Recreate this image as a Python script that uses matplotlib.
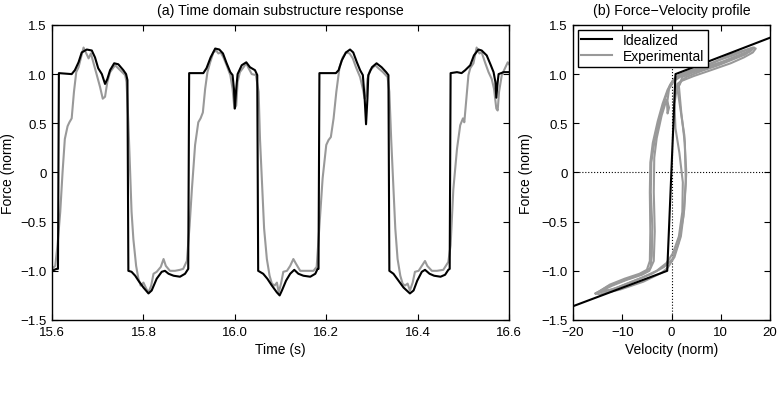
import matplotlib
matplotlib.use("Agg")
import matplotlib.pyplot as plt

# (a) time domain: idealized vs experimental force
ideal_time = [
    15.600, 15.610, 15.613, 15.615, 15.643, 15.650, 15.658, 15.665, 15.676, 15.687,
    15.694, 15.701, 15.709, 15.716, 15.721, 15.727, 15.736, 15.745, 15.756, 15.762,
    15.765, 15.767, 15.774, 15.782, 15.789, 15.800, 15.811, 15.818, 15.829, 15.840,
    15.847, 15.855, 15.866, 15.880, 15.891, 15.898, 15.900, 15.931, 15.938, 15.947,
    15.957, 15.966, 15.974, 15.982, 15.990, 15.995, 15.998, 16.000, 16.003, 16.006,
    16.015, 16.025, 16.033, 16.044, 16.049, 16.051, 16.062, 16.071, 16.081, 16.092,
    16.098, 16.103, 16.112, 16.121, 16.130, 16.139, 16.150, 16.165, 16.176, 16.181,
    16.183, 16.185, 16.221, 16.227, 16.234, 16.243, 16.252, 16.259, 16.267, 16.274,
    16.280, 16.284, 16.287, 16.290, 16.292, 16.300, 16.310, 16.321, 16.331, 16.336,
    16.338, 16.347, 16.358, 16.369, 16.383, 16.391, 16.399, 16.409, 16.416, 16.426,
    16.436, 16.450, 16.460, 16.467, 16.470, 16.472, 16.486, 16.496, 16.504, 16.515,
    16.523, 16.533, 16.540, 16.551, 16.560, 16.566, 16.570, 16.572, 16.575, 16.577,
    16.588, 16.600,
]
ideal_force = [
    -1.00, -0.98, -0.98, 1.01, 1.00, 1.04, 1.12, 1.22, 1.25, 1.24,
    1.17, 1.06, 1.00, 0.90, 0.95, 1.04, 1.11, 1.10, 1.04, 1.00,
    0.94, -1.00, -1.01, -1.05, -1.10, -1.17, -1.23, -1.20, -1.08, -1.01,
    -1.00, -1.03, -1.05, -1.06, -1.03, -0.98, 1.01, 1.01, 1.06, 1.17,
    1.26, 1.25, 1.21, 1.11, 1.02, 0.99, 0.85, 0.65, 0.85, 1.00,
    1.09, 1.12, 1.07, 1.04, 0.99, -1.00, -1.03, -1.08, -1.15, -1.22,
    -1.25, -1.20, -1.10, -1.03, -0.99, -1.03, -1.05, -1.06, -1.03, -0.98,
    -0.98, 1.01, 1.01, 1.04, 1.14, 1.22, 1.25, 1.22, 1.12, 1.04,
    0.99, 0.75, 0.49, 0.75, 0.99, 1.07, 1.11, 1.07, 1.02, 0.99,
    -1.00, -1.03, -1.10, -1.17, -1.23, -1.20, -1.10, -1.01, -0.99, -1.03,
    -1.05, -1.06, -1.04, -0.99, -0.98, 1.01, 1.02, 1.01, 1.04, 1.09,
    1.19, 1.25, 1.24, 1.19, 1.09, 1.02, 0.92, 0.76, 0.92, 1.00,
    1.02, 1.02,
]

exp_time = [
    15.600, 15.607, 15.612, 15.618, 15.623, 15.628, 15.634, 15.638, 15.643, 15.648,
    15.653, 15.658, 15.663, 15.669, 15.674, 15.680, 15.685, 15.691, 15.698, 15.705,
    15.711, 15.716, 15.721, 15.727, 15.738, 15.749, 15.760, 15.763, 15.767, 15.771,
    15.774, 15.778, 15.784, 15.789, 15.794, 15.800, 15.806, 15.811, 15.817, 15.822,
    15.829, 15.838, 15.844, 15.849, 15.858, 15.869, 15.880, 15.887, 15.895, 15.901,
    15.906, 15.913, 15.920, 15.925, 15.930, 15.935, 15.940, 15.946, 15.953, 15.959,
    15.964, 15.969, 15.975, 15.982, 15.990, 15.995, 15.999, 16.003, 16.006, 16.011,
    16.019, 16.025, 16.030, 16.037, 16.046, 16.052, 16.055, 16.060, 16.064, 16.070,
    16.076, 16.081, 16.087, 16.092, 16.096, 16.101, 16.106, 16.114, 16.121, 16.128,
    16.134, 16.143, 16.157, 16.172, 16.179, 16.185, 16.192, 16.200, 16.205, 16.210,
    16.216, 16.222, 16.229, 16.236, 16.243, 16.251, 16.258, 16.265, 16.274, 16.280,
    16.284, 16.287, 16.290, 16.296, 16.307, 16.314, 16.324, 16.334, 16.338, 16.342,
    16.347, 16.351, 16.356, 16.362, 16.367, 16.372, 16.378, 16.383, 16.389, 16.394,
    16.402, 16.409, 16.416, 16.421, 16.431, 16.442, 16.456, 16.467, 16.472, 16.478,
    16.486, 16.493, 16.499, 16.502, 16.507, 16.511, 16.515, 16.522, 16.529, 16.535,
    16.540, 16.548, 16.555, 16.562, 16.567, 16.572, 16.575, 16.578, 16.584, 16.591,
    16.597, 16.600,
]
exp_force = [
    -0.98, -0.95, -0.74, -0.40, 0.00, 0.34, 0.47, 0.51, 0.55, 0.82,
    1.02, 1.07, 1.16, 1.27, 1.22, 1.16, 1.21, 1.11, 0.99, 0.87,
    0.75, 0.77, 0.92, 1.02, 1.09, 1.04, 0.99, 0.92, 0.51, 0.00,
    -0.40, -0.68, -0.95, -1.08, -1.15, -1.12, -1.18, -1.22, -1.15, -1.03,
    -1.01, -0.96, -0.88, -0.95, -1.00, -1.00, -0.99, -0.98, -0.90, -0.54,
    -0.17, 0.28, 0.51, 0.55, 0.61, 0.85, 1.02, 1.12, 1.22, 1.24,
    1.21, 1.22, 1.17, 1.09, 0.99, 0.85, 0.65, 0.68, 0.92, 1.02,
    1.07, 1.11, 1.06, 1.00, 0.99, 0.82, 0.34, -0.17, -0.57, -0.88,
    -1.05, -1.13, -1.15, -1.12, -1.22, -1.13, -1.01, -1.00, -0.95, -0.88,
    -0.93, -1.00, -1.00, -1.00, -0.96, -0.54, -0.06, 0.28, 0.33, 0.36,
    0.55, 0.82, 1.07, 1.17, 1.22, 1.21, 1.16, 1.07, 0.97, 0.85,
    0.75, 0.78, 0.95, 1.04, 1.09, 1.06, 1.02, 0.97, 0.82, 0.34,
    -0.17, -0.57, -0.88, -1.05, -1.13, -1.15, -1.13, -1.20, -1.12, -1.01,
    -1.00, -0.95, -0.90, -0.95, -1.00, -1.00, -0.99, -0.91, -0.74, -0.17,
    0.24, 0.48, 0.55, 0.51, 0.78, 0.99, 1.06, 1.11, 1.27, 1.21,
    1.22, 1.11, 1.02, 0.95, 0.85, 0.65, 0.63, 0.82, 0.99, 1.06,
    1.12, 1.10,
]

# (b) force-velocity profile
ideal_vel = [-20, -0.87, 0.81, 20]
ideal_fv_force = [-1.36, -1.00, 1.00, 1.37]

loop1_vel = [-15.4, -13, -10.4, -7.5, -5.7, -4.3, -4.0, -3.9, -4.2, -4.1, -3.5, -2.4, -1.3, -0.3, 0.8,
             2.5, 5.3, 8.7, 12, 14.7, 16.5, 17.1, 16.5, 14.7, 12, 8, 4.5, 2, 1.2,
             1.8, 2.6, 3.0, 2.6, 1.9, 0.6, -0.8, -2, -5.7, -10.4, -13, -14.4, -15.4]
loop1_force = [-1.23, -1.16, -1.11, -1.06, -1.02, -0.97, -0.85, -0.55, -0.2, 0.1, 0.3, 0.55, 0.75, 0.89, 0.97,
               1.0, 1.05, 1.12, 1.2, 1.24, 1.27, 1.26, 1.22, 1.17, 1.11, 1.04, 0.98, 0.93, 0.85,
               0.65, 0.38, 0.0, -0.37, -0.65, -0.86, -0.97, -1.02, -1.11, -1.19, -1.22, -1.24, -1.23]

loop2_vel = [-14.5, -12, -9, -6, -4.5, -3.6, -3.4, -3.6, -3.5, -3.0, -2.0, -1.0, -0.5, -0.8, -0.9, -0.5,
             0.5, 2, 4.5, 7.5, 10.5, 13, 15, 16, 15, 12.5, 9.5, 6, 3, 1.2, 0.6, 0.8, 1.6, 2.3, 2.2, 1.5,
             0.3, -1, -3, -6, -9, -12, -14.5]
loop2_force = [-1.21, -1.15, -1.09, -1.04, -1.0, -0.9, -0.6, -0.2, 0.15, 0.35, 0.58, 0.74, 0.66, 0.6, 0.7, 0.85,
               0.93, 0.98, 1.03, 1.08, 1.13, 1.18, 1.22, 1.24, 1.2, 1.15, 1.09, 1.03, 0.97, 0.9, 0.7, 0.45,
               0.2, -0.1, -0.4, -0.65, -0.82, -0.92, -1.0, -1.07, -1.13, -1.19, -1.21]

loop3_vel = [-15, -12.5, -9.5, -6.5, -5, -4.4, -4.3, -4.4, -4.3, -3.8, -2.8, -1.8, -0.8, 0.2, 1.5, 3.5,
             6.5, 9.5, 12.5, 15, 16.8, 16, 13, 10, 7, 4, 2.2, 1.5, 2.0, 2.7, 2.9, 2.4, 1.4, 0.2, -1.5,
             -4, -7.5, -11, -13.5, -15]
loop3_force = [-1.22, -1.14, -1.08, -1.03, -0.99, -0.9, -0.6, -0.2, 0.1, 0.3, 0.52, 0.7, 0.84, 0.93, 0.99, 1.03,
               1.08, 1.14, 1.19, 1.24, 1.27, 1.23, 1.17, 1.11, 1.06, 1.01, 0.97, 0.88, 0.6, 0.3, -0.1,
               -0.45, -0.72, -0.88, -0.96, -1.03, -1.1, -1.17, -1.21, -1.22]

force_ticks = [-1.5, -1.0, -0.5, 0, 0.5, 1.0, 1.5]
force_labels = ["\u22121.5", "\u22121.0", "\u22120.5", "0", "0.5", "1.0", "1.5"]
time_ticks = [15.6, 15.8, 16.0, 16.2, 16.4, 16.6]
time_labels = ["15.6", "15.8", "16.0", "16.2", "16.4", "16.6"]
vel_ticks = [-20, -10, 0, 10, 20]
vel_labels = ["\u221220", "\u221210", "0", "10", "20"]

plt.rcParams.update({
    "font.family": ["Liberation Sans", "DejaVu Sans"],
    "font.size": 10,
    "xtick.labelsize": 9.5,
    "ytick.labelsize": 9.5,
    "legend.fontsize": 10,
    "axes.titlesize": 10.2,
    "axes.labelsize": 10,
    "axes.linewidth": 1.0,
})

black = "black"
grey = "0.6"

fig = plt.figure(figsize=(7.8, 4.02), dpi=100)
ax1 = fig.add_axes([0.0667, 0.2015, 0.586, 0.734])
ax2 = fig.add_axes([0.7346, 0.2015, 0.2526, 0.734])

ax1.plot(ideal_time, ideal_force, color=black, lw=1.5, zorder=3)
ax1.plot(exp_time, exp_force, color=grey, lw=1.5, zorder=2)
ax1.set_xlim(15.6, 16.6)
ax1.set_ylim(-1.5, 1.5)
ax1.set_xticks(time_ticks)
ax1.set_xticklabels(time_labels)
ax1.set_yticks(force_ticks)
ax1.set_yticklabels(force_labels)
ax1.set_xlabel("Time (s)", labelpad=3)
ax1.set_ylabel("Force (norm)")
ax1.yaxis.set_label_coords(-0.081, 0.5)
ax1.set_title("(a) Time domain substructure response", pad=8)

ax2.axhline(0, color="black", ls=":", lw=0.8, zorder=1)
ax2.axvline(0, color="black", ls=":", lw=0.8, zorder=1)
ax2.plot(ideal_vel, ideal_fv_force, color=black, lw=1.5, zorder=3, label="Idealized")
ax2.plot(loop1_vel, loop1_force, color=grey, lw=1.5, zorder=2, label="Experimental")
ax2.plot(loop2_vel, loop2_force, color=grey, lw=1.5, zorder=2)
ax2.plot(loop3_vel, loop3_force, color=grey, lw=1.5, zorder=2)
ax2.set_xlim(-20, 20)
ax2.set_ylim(-1.5, 1.5)
ax2.set_xticks(vel_ticks)
ax2.set_xticklabels(vel_labels)
ax2.set_yticks(force_ticks)
ax2.set_yticklabels(force_labels)
ax2.set_xlabel("Velocity (norm)", labelpad=3)
ax2.set_ylabel("Force (norm)")
ax2.yaxis.set_label_coords(-0.203, 0.5)
ax2.set_title("(b) Force\u2212Velocity profile", pad=8)

leg = ax2.legend(loc="upper left", fancybox=False, edgecolor="black", framealpha=1,
                 borderaxespad=0.35, labelspacing=0.15, borderpad=0.25, handlelength=2.2,
                 handletextpad=0.8)
leg.get_frame().set_linewidth(1.0)

for ax in (ax1, ax2):
    ax.tick_params(direction="in", top=True, right=True, length=4, width=0.8, pad=4)

fig.savefig("out.png", dpi=100)
